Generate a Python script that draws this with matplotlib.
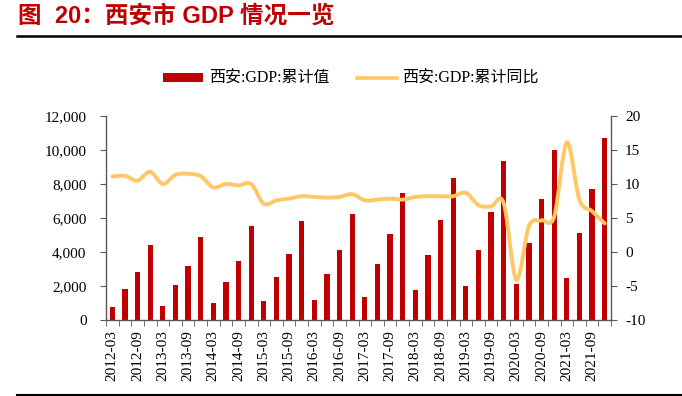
import matplotlib
matplotlib.use("Agg")
import matplotlib.pyplot as plt
from matplotlib.path import Path
from matplotlib.patches import PathPatch, Patch
from matplotlib.lines import Line2D
from matplotlib.ticker import FuncFormatter, MultipleLocator
import numpy as np

plt.rcParams["axes.unicode_minus"] = False

SERIF = ["Liberation Serif", "Noto Sans CJK SC"]
TITLE_FONT = ["Liberation Sans", "Noto Sans CJK SC"]

# quarterly data, 2012-03 .. 2021-12
quarters = [f"{y}-{m}" for y in range(2012, 2022) for m in ("03", "06", "09", "12")]

gdp_cum = [790, 1810, 2830, 4390, 850, 2070, 3150, 4860, 980, 2240,
           3480, 5510, 1100, 2540, 3900, 5830, 1160, 2720, 4130, 6240,
           1340, 3310, 5040, 7480, 1750, 3840, 5890, 8330, 1990, 4130,
           6360, 9350, 2130, 4550, 7090, 10000, 2460, 5100, 7680, 10730]

gdp_yoy = [11.1, 11.2, 10.5, 11.8, 10.0, 11.35, 11.5, 11.15, 9.5, 10.0,
           9.8, 10.0, 7.1, 7.6, 7.85, 8.2, 8.1, 8.0, 8.1, 8.5,
           7.6, 7.7, 7.85, 7.7, 8.1, 8.2, 8.2, 8.2, 8.7, 6.9,
           6.7, 7.2, -4.1, 3.8, 4.65, 5.2, 16.1, 7.7, 6.0, 4.2]

bar_name = "西安:GDP:累计值"
line_name = "西安:GDP:累计同比"
title = "图  20：西安市 GDP 情况一览"

RED = "#C00000"
YELLOW = "#FFC766"

W, H = 682, 396
fig = plt.figure(figsize=(W / 100, H / 100), dpi=100)

# axes placed in pixel terms
left, right, top, bottom = 106, 611, 116, 320
ax = fig.add_axes([left / W, 1 - bottom / H, (right - left) / W, (bottom - top) / H])
ax2 = ax.twinx()

x = np.arange(len(quarters))
ax.bar(x, gdp_cum, width=0.42, color=RED, zorder=2)
ax.set_xlim(-0.5, len(quarters) - 0.5)
ax.set_ylim(0, 12000)
ax.yaxis.set_major_locator(MultipleLocator(2000))
ax.yaxis.set_major_formatter(FuncFormatter(lambda v, p: f"{int(v):,}"))

# smooth line (Catmull-Rom as cubic bezier path, like excel's smoothed line)
pts = np.column_stack([x, gdp_yoy]).astype(float)
ext = np.vstack([pts[0], pts, pts[-1]])
verts = [tuple(pts[0])]
codes = [Path.MOVETO]
for i in range(1, len(ext) - 2):
    p0, p1, p2, p3 = ext[i - 1], ext[i], ext[i + 1], ext[i + 2]
    c1 = p1 + (p2 - p0) / 6
    c2 = p2 - (p3 - p1) / 6
    verts += [tuple(c1), tuple(c2), tuple(p2)]
    codes += [Path.CURVE4] * 3
ax2.add_patch(PathPatch(Path(verts, codes), fill=False, edgecolor=YELLOW,
                        lw=2.8, capstyle="round", joinstyle="round", zorder=3))
ax2.set_ylim(-10, 20)
ax2.yaxis.set_major_locator(MultipleLocator(5))

# x ticks: marks at category boundaries, labels every second quarter
ax.set_xticks(x[::2])
ax.set_xticklabels(quarters[::2], rotation=90, family=SERIF, fontsize=11)
ax.set_xticks(np.arange(-0.5, len(quarters)), minor=True)
ax.tick_params(axis="x", which="major", length=0, pad=7)
ax.tick_params(axis="x", which="minor", length=4, direction="out", color="#595959")

for a in (ax, ax2):
    for s in a.spines.values():
        s.set_visible(False)
    for lab in a.get_yticklabels():
        lab.set_family(SERIF)
        lab.set_fontsize(11)
ax.spines["left"].set_visible(True)
ax.spines["bottom"].set_visible(True)
ax2.spines["right"].set_visible(True)
for s in (ax.spines["left"], ax.spines["bottom"], ax2.spines["right"]):
    s.set_color("#595959")
    s.set_linewidth(1.0)
ax.tick_params(axis="y", length=4, color="#595959", pad=10)
ax2.tick_params(axis="y", length=4, color="#595959", pad=6)

ax.set_zorder(1)
ax2.set_zorder(2)
ax2.patch.set_visible(False)

# legend
handles = [Patch(facecolor=RED, edgecolor="none"),
           Line2D([], [], color=YELLOW, lw=2.6)]
fig.legend(handles, [bar_name, line_name], loc="center",
           bbox_to_anchor=(351 / W, 1 - 79 / H), ncol=2, frameon=False,
           prop={"family": SERIF, "size": 11.5}, handlelength=2.5,
           handleheight=0.55, handletextpad=0.35, columnspacing=1.7)

# title and rules
fig.text(18 / W, 1 - 16 / H, title, color=RED, fontsize=17, fontweight="bold",
         family=TITLE_FONT, va="center", ha="left")
fig.add_artist(Line2D([17 / W, 1], [1 - 36 / H] * 2, color="black", lw=1.8))
fig.add_artist(Line2D([17 / W, 1], [1 - 395 / H] * 2, color="black", lw=1.5))

fig.savefig("out.png", dpi=100)
